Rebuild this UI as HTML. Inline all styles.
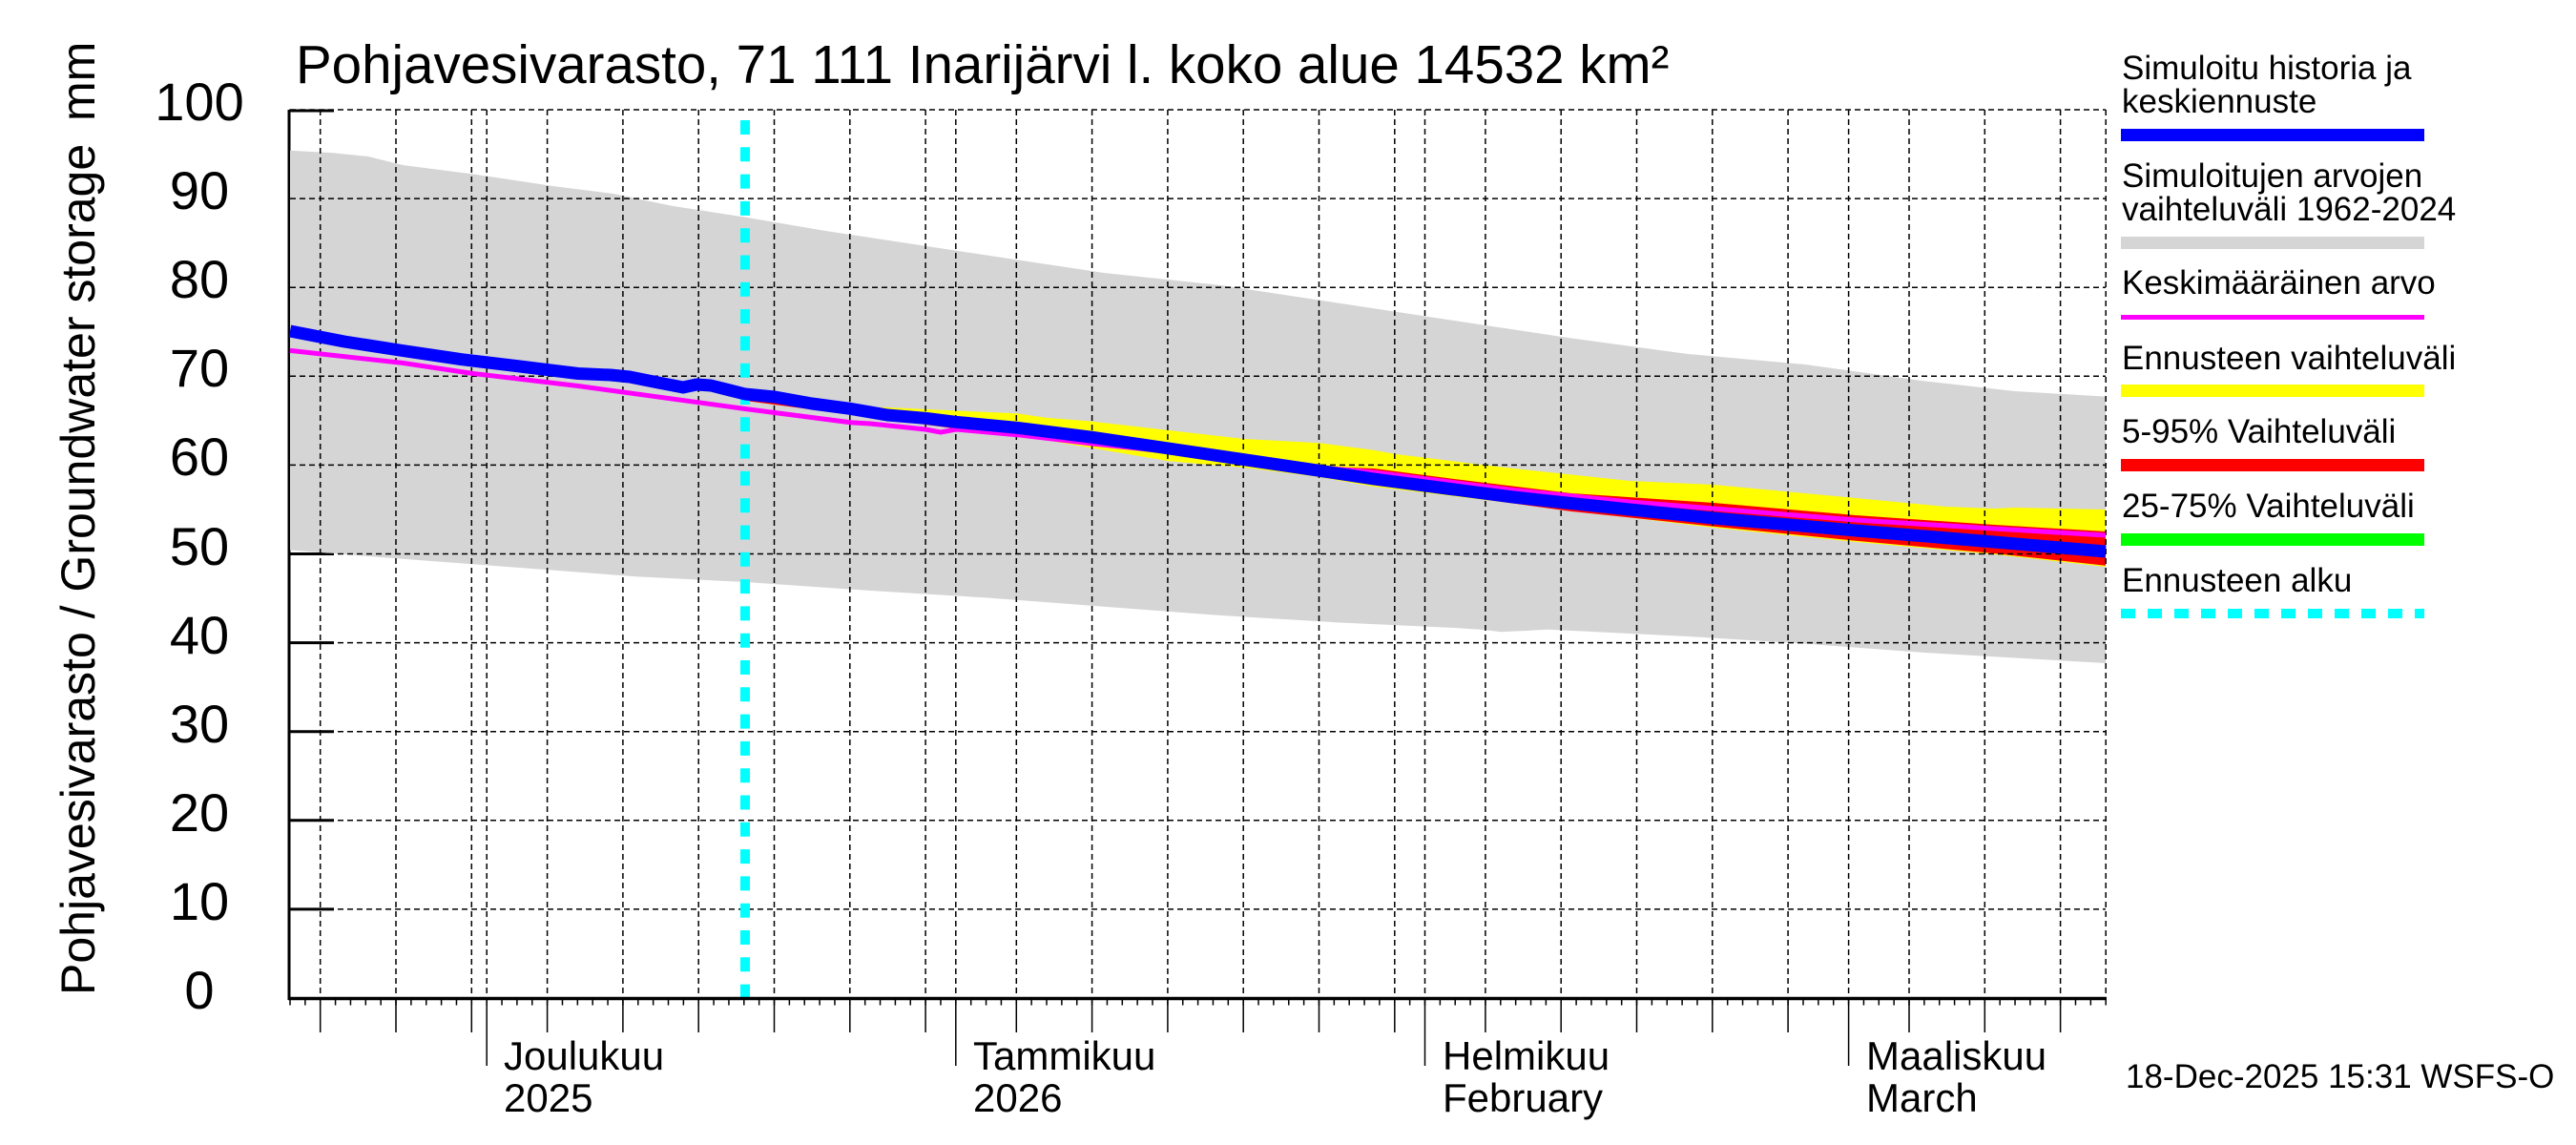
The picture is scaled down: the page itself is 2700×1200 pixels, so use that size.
<!DOCTYPE html>
<html>
<head>
<meta charset="utf-8">
<style>
  html, body { margin:0; padding:0; background:#ffffff; }
  svg { display:block; }
  text { font-family: "Liberation Sans", Arial, sans-serif; fill:#000; }
</style>
</head>
<body>
<svg width="2700" height="1200" viewBox="0 0 2700 1200" xmlns="http://www.w3.org/2000/svg">
  <rect x="0" y="0" width="2700" height="1200" fill="#ffffff"/>

  <!-- Title -->
  <text x="310" y="87" font-size="56.5">Pohjavesivarasto, 71 111 Inarijärvi l. koko alue 14532 km²</text>

  <!-- Y axis title -->
  <text transform="translate(99,1043) rotate(-90)" font-size="50">Pohjavesivarasto / Groundwater storage</text>
  <text transform="translate(99,127) rotate(-90)" font-size="50">mm</text>

  <!-- Y tick labels -->
  <g font-size="56" text-anchor="middle">
    <text x="209" y="1057">0</text>
    <text x="209" y="964">10</text>
    <text x="209" y="871">20</text>
    <text x="209" y="778">30</text>
    <text x="209" y="685">40</text>
    <text x="209" y="592">50</text>
    <text x="209" y="498">60</text>
    <text x="209" y="405">70</text>
    <text x="209" y="312">80</text>
    <text x="209" y="219">90</text>
    <text x="209" y="126">100</text>
  </g>

  <!-- Axes and ticks (drawn before gray band) -->
  <g stroke="#000" fill="none">
    <line x1="303" y1="115" x2="303" y2="1048" stroke-width="3"/>
    <g stroke-width="3">
      <line x1="303" y1="952.9" x2="350" y2="952.9"/>
      <line x1="303" y1="859.8" x2="350" y2="859.8"/>
      <line x1="303" y1="766.7" x2="350" y2="766.7"/>
      <line x1="303" y1="673.6" x2="350" y2="673.6"/>
      <line x1="303" y1="580.5" x2="350" y2="580.5"/>
      <line x1="303" y1="487.4" x2="350" y2="487.4"/>
      <line x1="303" y1="394.3" x2="350" y2="394.3"/>
      <line x1="303" y1="301.2" x2="350" y2="301.2"/>
      <line x1="303" y1="208.1" x2="350" y2="208.1"/>
      <line x1="303" y1="116" x2="350" y2="116"/>
    </g>
  </g>

  <!-- Gray band: simulated range 1962-2024 -->
  <polygon fill="#d5d5d5" points="
    304,157.7 349,160.3 386,164 422,173 496,182.5 582,195.4 643,203 704,215.8 781,227.6 863,241.6 973,258.3 1059,271.3 1157,286 1280,299 1402,317.5 1524,336 1647,354.5 1769,371 1892,382 2014,399 2112,410 2207,415.6
    2207,695 2014,683.8 1892,674.6 1769,667 1622,659.7 1600,661 1573,662.3 1555,660 1524,658 1402,652.4 1280,645 1157,635.7 1035,626.5 912,619 781,610 667,604.3 545,595 422,585.8 304,576.5"/>

  <!-- Forecast range (yellow) -->
  <polygon fill="#ffff00" points="
    781,413 900,428 925,426.7 998,430.3 1066,433.3 1096,437.8 1145,441.7 1225,451 1304,460 1383,464.3 1440,471.7 1463,476 1586,491 1708,504 1796,508 1945,522 2039,531 2090,533 2112,532 2207,534
    2207,594 2090,581 1945,568 1796,553 1440,510 1383,500 1304,490 1225,483.3 1100,462 1002,449 781,420"/>

  <!-- 5-95% (red) -->
  <polygon fill="#ff0000" points="
    781,413 1000,440 1084,450 1157,458 1280,473 1402,489.6 1440,491 1524,502 1647,517 1796,527 1945,540 2090,550 2207,557
    2207,592.7 2090,580 1945,566.7 1796,551.7 1647,536 1524,519 1440,508 1402,502.5 1280,482 1157,466 1000,449 781,420"/>

  <!-- Grid lines (dashed) -->
  <g stroke="#000" stroke-width="1.5" stroke-dasharray="6,4" fill="none">
    <line x1="304" y1="115" x2="2207" y2="115"/>
    <line x1="304" y1="952.9" x2="2207" y2="952.9"/>
    <line x1="304" y1="859.8" x2="2207" y2="859.8"/>
    <line x1="304" y1="766.7" x2="2207" y2="766.7"/>
    <line x1="304" y1="673.6" x2="2207" y2="673.6"/>
    <line x1="304" y1="580.5" x2="2207" y2="580.5"/>
    <line x1="304" y1="487.4" x2="2207" y2="487.4"/>
    <line x1="304" y1="394.3" x2="2207" y2="394.3"/>
    <line x1="304" y1="301.2" x2="2207" y2="301.2"/>
    <line x1="304" y1="208.1" x2="2207" y2="208.1"/>

    <line x1="335.7" y1="115" x2="335.7" y2="1046"/>
    <line x1="415.0" y1="115" x2="415.0" y2="1046"/>
    <line x1="494.3" y1="115" x2="494.3" y2="1046"/>
    <line x1="510.2" y1="115" x2="510.2" y2="1046"/>
    <line x1="573.6" y1="115" x2="573.6" y2="1046"/>
    <line x1="652.9" y1="115" x2="652.9" y2="1046"/>
    <line x1="732.2" y1="115" x2="732.2" y2="1046"/>
    <line x1="811.5" y1="115" x2="811.5" y2="1046"/>
    <line x1="890.8" y1="115" x2="890.8" y2="1046"/>
    <line x1="970.1" y1="115" x2="970.1" y2="1046"/>
    <line x1="1001.8" y1="115" x2="1001.8" y2="1046"/>
    <line x1="1065.3" y1="115" x2="1065.3" y2="1046"/>
    <line x1="1144.6" y1="115" x2="1144.6" y2="1046"/>
    <line x1="1223.9" y1="115" x2="1223.9" y2="1046"/>
    <line x1="1303.2" y1="115" x2="1303.2" y2="1046"/>
    <line x1="1382.5" y1="115" x2="1382.5" y2="1046"/>
    <line x1="1461.8" y1="115" x2="1461.8" y2="1046"/>
    <line x1="1493.5" y1="115" x2="1493.5" y2="1046"/>
    <line x1="1556.9" y1="115" x2="1556.9" y2="1046"/>
    <line x1="1636.2" y1="115" x2="1636.2" y2="1046"/>
    <line x1="1715.5" y1="115" x2="1715.5" y2="1046"/>
    <line x1="1794.8" y1="115" x2="1794.8" y2="1046"/>
    <line x1="1874.1" y1="115" x2="1874.1" y2="1046"/>
    <line x1="1937.6" y1="115" x2="1937.6" y2="1046"/>
    <line x1="2001.0" y1="115" x2="2001.0" y2="1046"/>
    <line x1="2080.3" y1="115" x2="2080.3" y2="1046"/>
    <line x1="2159.6" y1="115" x2="2159.6" y2="1046"/>
    <line x1="2207.2" y1="115" x2="2207.2" y2="1046"/>
  </g>

  <!-- Forecast start (cyan dashed) -->
  <line x1="781" y1="126" x2="781" y2="1046" stroke="#00ffff" stroke-width="10" stroke-dasharray="15,13.3"/>

  <!-- Mean value (magenta) -->
  <polyline fill="none" stroke="#ff00ff" stroke-width="5" stroke-linejoin="round" points="
    304,367.4 422,380.4 496,391.5 606,404.5 781,428.5 891,442.7 912,444 970,450 986,453 1002,450 1066,455.7 1145,465 1225,473.3 1304,481.7 1383,490 1440,495 1586,513.6 1708,526 1796,533 1945,545 2090,554 2207,561"/>

  <!-- Simulated history & mean forecast (blue) -->
  <polyline fill="none" stroke="#0000ff" stroke-width="13" stroke-linejoin="round" points="
    304,347 361,358 422,367.5 484,376.7 545,384 606,391.5 640,393 660,395 690,401 716,406 730,403 745,404 781,413 812,416 851,423 891,428.3 930,435 970,438.3 1002,442.3 1066,448.3 1145,458.3 1225,470 1304,481.7 1383,493.3 1440,502 1524,513 1586,521 1708,534 1796,543 1945,556 2090,568 2207,578"/>

  <!-- Bottom axis -->
  <line x1="302" y1="1046.5" x2="2208" y2="1046.5" stroke="#000" stroke-width="3.5"/>
  <!-- day ticks -->
  <line x1="303.25" y1="1050" x2="2209" y2="1050" stroke="#000" stroke-width="7" stroke-dasharray="1.5,14.36"/>
  <!-- 5-day and month ticks -->
  <g stroke="#000" stroke-width="1.5">
    <line x1="335.7" y1="1046" x2="335.7" y2="1082"/>
    <line x1="415.0" y1="1046" x2="415.0" y2="1082"/>
    <line x1="494.3" y1="1046" x2="494.3" y2="1082"/>
    <line x1="510.2" y1="1046" x2="510.2" y2="1117"/>
    <line x1="573.6" y1="1046" x2="573.6" y2="1082"/>
    <line x1="652.9" y1="1046" x2="652.9" y2="1082"/>
    <line x1="732.2" y1="1046" x2="732.2" y2="1082"/>
    <line x1="811.5" y1="1046" x2="811.5" y2="1082"/>
    <line x1="890.8" y1="1046" x2="890.8" y2="1082"/>
    <line x1="970.1" y1="1046" x2="970.1" y2="1082"/>
    <line x1="1001.8" y1="1046" x2="1001.8" y2="1117"/>
    <line x1="1065.3" y1="1046" x2="1065.3" y2="1082"/>
    <line x1="1144.6" y1="1046" x2="1144.6" y2="1082"/>
    <line x1="1223.9" y1="1046" x2="1223.9" y2="1082"/>
    <line x1="1303.2" y1="1046" x2="1303.2" y2="1082"/>
    <line x1="1382.5" y1="1046" x2="1382.5" y2="1082"/>
    <line x1="1461.8" y1="1046" x2="1461.8" y2="1082"/>
    <line x1="1493.5" y1="1046" x2="1493.5" y2="1117"/>
    <line x1="1556.9" y1="1046" x2="1556.9" y2="1082"/>
    <line x1="1636.2" y1="1046" x2="1636.2" y2="1082"/>
    <line x1="1715.5" y1="1046" x2="1715.5" y2="1082"/>
    <line x1="1794.8" y1="1046" x2="1794.8" y2="1082"/>
    <line x1="1874.1" y1="1046" x2="1874.1" y2="1082"/>
    <line x1="1937.6" y1="1046" x2="1937.6" y2="1117"/>
    <line x1="2001.0" y1="1046" x2="2001.0" y2="1082"/>
    <line x1="2080.3" y1="1046" x2="2080.3" y2="1082"/>
    <line x1="2159.6" y1="1046" x2="2159.6" y2="1082"/>
  </g>

  <!-- Month labels -->
  <g font-size="42">
    <text x="528" y="1121">Joulukuu</text>
    <text x="528" y="1165">2025</text>
    <text x="1020" y="1121">Tammikuu</text>
    <text x="1020" y="1165">2026</text>
    <text x="1512" y="1121">Helmikuu</text>
    <text x="1512" y="1165">February</text>
    <text x="1956" y="1121">Maaliskuu</text>
    <text x="1956" y="1165">March</text>
  </g>

  <!-- Legend -->
  <g font-size="35">
    <text x="2224" y="83">Simuloitu historia ja</text>
    <text x="2224" y="118">keskiennuste</text>
    <text x="2224" y="196">Simuloitujen arvojen</text>
    <text x="2224" y="231">vaihteluväli 1962-2024</text>
    <text x="2224" y="308">Keskimääräinen arvo</text>
    <text x="2224" y="387">Ennusteen vaihteluväli</text>
    <text x="2224" y="464">5-95% Vaihteluväli</text>
    <text x="2224" y="542">25-75% Vaihteluväli</text>
    <text x="2224" y="620">Ennusteen alku</text>
  </g>
  <rect x="2223" y="135" width="318" height="13" fill="#0000ff"/>
  <rect x="2223" y="248" width="318" height="13" fill="#d5d5d5"/>
  <rect x="2223" y="330" width="318" height="5" fill="#ff00ff"/>
  <rect x="2223" y="403" width="318" height="13" fill="#ffff00"/>
  <rect x="2223" y="481" width="318" height="13" fill="#ff0000"/>
  <rect x="2223" y="559" width="318" height="13" fill="#00ff00"/>
  <line x1="2223" y1="643" x2="2541" y2="643" stroke="#00ffff" stroke-width="10" stroke-dasharray="15,13"/>

  <!-- Timestamp -->
  <text x="2228" y="1140" font-size="35">18-Dec-2025 15:31 WSFS-O</text>
</svg>
</body>
</html>
